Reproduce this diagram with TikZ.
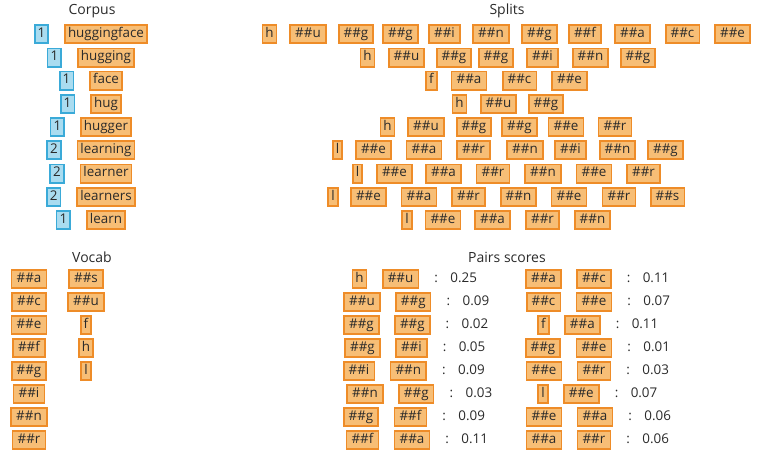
\documentclass[tikz,border=0pt]{standalone}
\usepackage{fontspec}
\setmainfont{Open Sans}
\usetikzlibrary{positioning}
\definecolor{tokfill}{RGB}{247,190,118}
\definecolor{tokline}{RGB}{238,140,40}
\definecolor{cntfill}{RGB}{170,220,240}
\definecolor{cntline}{RGB}{58,170,216}
\definecolor{ink}{RGB}{42,42,42}
\begin{document}
\begin{tikzpicture}[x=1pt, y=-1pt,
    every node/.style={font=\fontsize{13.4}{16}\selectfont, text=ink},
    tok/.style={draw=tokline, fill=tokfill, line width=1.7pt, inner xsep=3pt, inner ysep=2.85pt, text height=9.6pt, text depth=3pt},
    sub/.style={tok, inner xsep=5pt},
    cnt/.style={tok, draw=cntline, fill=cntfill},
    title/.style={font=\fontsize{14}{16}\selectfont},
    score/.style={inner sep=0pt, text height=9.6pt, text depth=3pt}]
    \useasboundingbox (0,0) rectangle (762,467);
    % corpus
    \node[title] (corpus) at (92,11) {Corpus};
    \node[tok] (w1) at (106,34) {huggingface};
    \node[tok] (w2) at (106,57.5) {hugging};
    \node[tok] (w3) at (106,80.5) {face};
    \node[tok] (w4) at (106,104) {hug};
    \node[tok] (w5) at (106,127) {hugger};
    \node[tok] (w6) at (106,150) {learning};
    \node[tok] (w7) at (106,173.5) {learner};
    \node[tok] (w8) at (106,197) {learners};
    \node[tok] (w9) at (106,220) {learn};
    \node[cnt, left=15pt of w1] (n1) {1};
    \node[cnt, left=15pt of w2] (n2) {1};
    \node[cnt, left=15pt of w3] (n3) {1};
    \node[cnt, left=15pt of w4] (n4) {1};
    \node[cnt, left=15pt of w5] (n5) {1};
    \node[cnt, left=15pt of w6] (n6) {2};
    \node[cnt, left=15pt of w7] (n7) {2};
    \node[cnt, left=15pt of w8] (n8) {2};
    \node[cnt, left=15pt of w9] (n9) {1};
    % splits
    \node[title] (splits) at (507,11) {Splits};
    \node[tok] (s1a) at (269.5,34) {h};
    \node[sub] (s1b) at (308,34) {\#\#u};
    \node[sub] (s1c) at (356,34) {\#\#g};
    \node[sub] (s1d) at (400.5,34) {\#\#g};
    \node[sub] (s1e) at (444.5,34) {\#\#i};
    \node[sub] (s1f) at (491,34) {\#\#n};
    \node[sub] (s1g) at (539.5,34) {\#\#g};
    \node[sub] (s1h) at (585,34) {\#\#f};
    \node[sub] (s1i) at (632.5,34) {\#\#a};
    \node[sub] (s1j) at (682.5,34) {\#\#c};
    \node[sub] (s1k) at (732.5,34) {\#\#e};
    \node[tok] (s2a) at (367.5,57.5) {h};
    \node[sub] (s2b) at (406.5,57.5) {\#\#u};
    \node[sub] (s2c) at (454,57.5) {\#\#g};
    \node[sub] (s2d) at (496,57.5) {\#\#g};
    \node[sub] (s2e) at (542.5,57.5) {\#\#i};
    \node[sub] (s2f) at (590.5,57.5) {\#\#n};
    \node[sub] (s2g) at (638,57.5) {\#\#g};
    \node[tok] (s3a) at (431.5,80.5) {f};
    \node[sub] (s3b) at (469,80.5) {\#\#a};
    \node[sub] (s3c) at (519.5,80.5) {\#\#c};
    \node[sub] (s3d) at (569.5,80.5) {\#\#e};
    \node[tok] (s4a) at (459.5,104) {h};
    \node[sub] (s4b) at (498.5,104) {\#\#u};
    \node[sub] (s4c) at (546,104) {\#\#g};
    \node[tok] (s5a) at (387.5,127) {h};
    \node[sub] (s5b) at (426,127) {\#\#u};
    \node[sub] (s5c) at (474,127) {\#\#g};
    \node[sub] (s5d) at (519.5,127) {\#\#g};
    \node[sub] (s5e) at (566,127) {\#\#e};
    \node[sub] (s5f) at (615,127) {\#\#r};
    \node[tok] (s6a) at (337.5,150) {l};
    \node[sub] (s6b) at (373.5,150) {\#\#e};
    \node[sub] (s6c) at (424,150) {\#\#a};
    \node[sub] (s6d) at (473.5,150) {\#\#r};
    \node[sub] (s6e) at (525,150) {\#\#n};
    \node[sub] (s6f) at (570.5,150) {\#\#i};
    \node[sub] (s6g) at (617.5,150) {\#\#n};
    \node[sub] (s6h) at (665.5,150) {\#\#g};
    \node[tok] (s7a) at (357.5,173.5) {l};
    \node[sub] (s7b) at (394.5,173.5) {\#\#e};
    \node[sub] (s7c) at (443.5,173.5) {\#\#a};
    \node[sub] (s7d) at (493,173.5) {\#\#r};
    \node[sub] (s7e) at (543,173.5) {\#\#n};
    \node[sub] (s7f) at (594,173.5) {\#\#e};
    \node[sub] (s7g) at (643.5,173.5) {\#\#r};
    \node[tok] (s8a) at (333,197) {l};
    \node[sub] (s8b) at (368.5,197) {\#\#e};
    \node[sub] (s8c) at (419,197) {\#\#a};
    \node[sub] (s8d) at (468.5,197) {\#\#r};
    \node[sub] (s8e) at (518.5,197) {\#\#n};
    \node[sub] (s8f) at (569,197) {\#\#e};
    \node[sub] (s8g) at (619,197) {\#\#r};
    \node[sub] (s8h) at (667.5,197) {\#\#s};
    \node[tok] (s9a) at (407,220) {l};
    \node[sub] (s9b) at (443,220) {\#\#e};
    \node[sub] (s9c) at (492.5,220) {\#\#a};
    \node[sub] (s9d) at (542.5,220) {\#\#r};
    \node[sub] (s9e) at (592.5,220) {\#\#n};
    % vocab
    \node[title] (vocab) at (92,257) {Vocab};
    \node[sub] (v1) at (29,279) {\#\#a};
    \node[sub] (v2) at (29,302) {\#\#c};
    \node[sub] (v3) at (29,325) {\#\#e};
    \node[sub] (v4) at (29,348) {\#\#f};
    \node[sub] (v5) at (29,371) {\#\#g};
    \node[sub] (v6) at (29,394) {\#\#i};
    \node[sub] (v7) at (29,417) {\#\#n};
    \node[sub] (v8) at (29,440) {\#\#r};
    \node[sub] (v9) at (86,279) {\#\#s};
    \node[sub] (v10) at (86,302) {\#\#u};
    \node[tok] (v11) at (86,325) {f};
    \node[tok] (v12) at (86,348) {h};
    \node[tok] (v13) at (86,371) {l};
    % pairs scores
    \node[title] (pairs) at (507,257) {Pairs scores};
    \node[tok] (p1a) at (359.5,279) {h};
    \node[sub, right=14.5pt of p1a] (p1b) {\#\#u};
    \node[score, right=15pt of p1b] (p1k) {:};
    \node[score, right=12pt of p1k] (p1v) {0.25};
    \node[sub] (p2a) at (362,302) {\#\#u};
    \node[sub, right=14.5pt of p2a] (p2b) {\#\#g};
    \node[score, right=15pt of p2b] (p2k) {:};
    \node[score, right=12pt of p2k] (p2v) {0.09};
    \node[sub] (p3a) at (361.5,325) {\#\#g};
    \node[sub, right=14.5pt of p3a] (p3b) {\#\#g};
    \node[score, right=15pt of p3b] (p3k) {:};
    \node[score, right=12pt of p3k] (p3v) {0.02};
    \node[sub] (p4a) at (362.5,348) {\#\#g};
    \node[sub, right=14.5pt of p4a] (p4b) {\#\#i};
    \node[score, right=15pt of p4b] (p4k) {:};
    \node[score, right=12pt of p4k] (p4v) {0.05};
    \node[sub] (p5a) at (359,371) {\#\#i};
    \node[sub, right=14.5pt of p5a] (p5b) {\#\#n};
    \node[score, right=15pt of p5b] (p5k) {:};
    \node[score, right=12pt of p5k] (p5v) {0.09};
    \node[sub] (p6a) at (365,394) {\#\#n};
    \node[sub, right=14.5pt of p6a] (p6b) {\#\#g};
    \node[score, right=15pt of p6b] (p6k) {:};
    \node[score, right=12pt of p6k] (p6v) {0.03};
    \node[sub] (p7a) at (361,417) {\#\#g};
    \node[sub, right=14.5pt of p7a] (p7b) {\#\#f};
    \node[score, right=15pt of p7b] (p7k) {:};
    \node[score, right=12pt of p7k] (p7v) {0.09};
    \node[sub] (p8a) at (362.5,440) {\#\#f};
    \node[sub, right=14.5pt of p8a] (p8b) {\#\#a};
    \node[score, right=15pt of p8b] (p8k) {:};
    \node[score, right=12pt of p8k] (p8v) {0.11};
    \node[sub] (q1a) at (543.5,279) {\#\#a};
    \node[sub, right=14.5pt of q1a] (q1b) {\#\#c};
    \node[score, right=15pt of q1b] (q1k) {:};
    \node[score, right=12pt of q1k] (q1v) {0.11};
    \node[sub] (q2a) at (543.5,302) {\#\#c};
    \node[sub, right=14.5pt of q2a] (q2b) {\#\#e};
    \node[score, right=15pt of q2b] (q2k) {:};
    \node[score, right=12pt of q2k] (q2v) {0.07};
    \node[tok] (q3a) at (543.5,325) {f};
    \node[sub, right=14.5pt of q3a] (q3b) {\#\#a};
    \node[score, right=15pt of q3b] (q3k) {:};
    \node[score, right=12pt of q3k] (q3v) {0.11};
    \node[sub] (q4a) at (543,348) {\#\#g};
    \node[sub, right=14.5pt of q4a] (q4b) {\#\#e};
    \node[score, right=15pt of q4b] (q4k) {:};
    \node[score, right=12pt of q4k] (q4v) {0.01};
    \node[sub] (q5a) at (544,371) {\#\#e};
    \node[sub, right=14.5pt of q5a] (q5b) {\#\#r};
    \node[score, right=15pt of q5b] (q5k) {:};
    \node[score, right=12pt of q5k] (q5v) {0.03};
    \node[tok] (q6a) at (543,394) {l};
    \node[sub, right=14.5pt of q6a] (q6b) {\#\#e};
    \node[score, right=15pt of q6b] (q6k) {:};
    \node[score, right=12pt of q6k] (q6v) {0.07};
    \node[sub] (q7a) at (544,417) {\#\#e};
    \node[sub, right=14.5pt of q7a] (q7b) {\#\#a};
    \node[score, right=15pt of q7b] (q7k) {:};
    \node[score, right=12pt of q7k] (q7v) {0.06};
    \node[sub] (q8a) at (544,440) {\#\#a};
    \node[sub, right=14.5pt of q8a] (q8b) {\#\#r};
    \node[score, right=15pt of q8b] (q8k) {:};
    \node[score, right=12pt of q8k] (q8v) {0.06};
\end{tikzpicture}
\end{document}
